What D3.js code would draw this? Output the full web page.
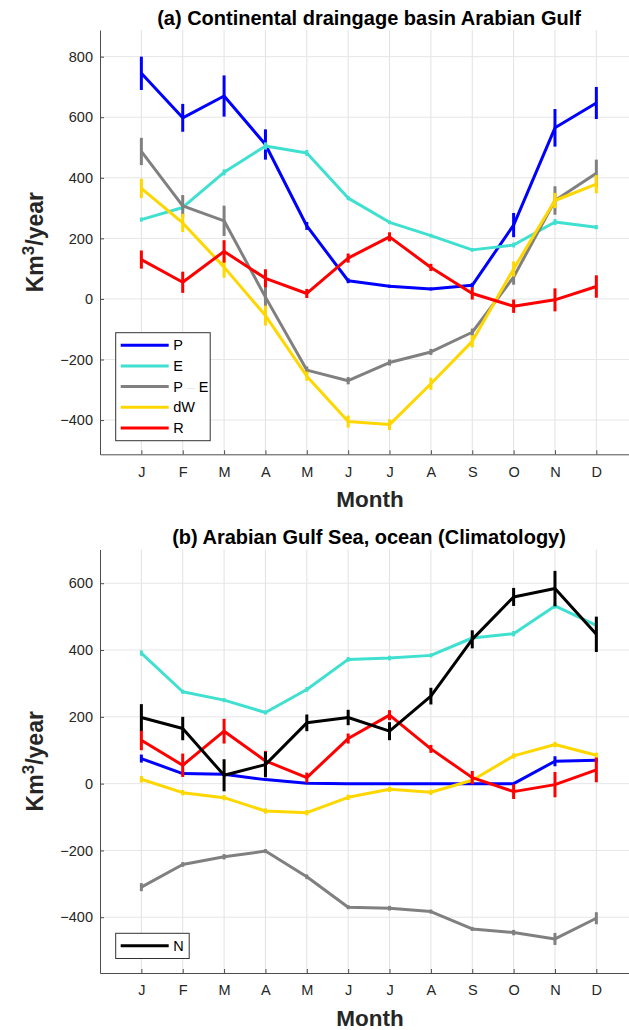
<!DOCTYPE html>
<html>
<head>
<meta charset="utf-8">
<script src="https://cdn.jsdelivr.net/npm/d3@7"></script>
<style>
  body { margin: 0; background: #fff; }
  svg { display: block; font-family: "Liberation Sans", Arial, sans-serif; }
</style>
</head>
<body>
<div id="chart"></div>
<script>
// month labels and y ticks
const months = ["J", "F", "M", "A", "M", "J", "J", "A", "S", "O", "N", "D"];
const yTicksLand = [-400, -200, 0, 200, 400, 600, 800];
const yTicksSea = [-400, -200, 0, 200, 400, 600];

// (a) continental drainage basin, km3/year
const landP = [745, 598, 670, 510, 241, 60, 42, 33, 45, 244, 565, 647];
const landPErr = [55, 46, 68, 50, 13, 8, 5, 5, 8, 40, 62, 53];
const landE = [262, 302, 418, 505, 482, 333, 253, 209, 162, 178, 254, 237];
const landEErr = [7, 8, 10, 12, 10, 7, 6, 6, 6, 8, 10, 7];
const landPE = [487, 307, 258, 6, -235, -270, -210, -175, -110, 72, 325, 415];
const landPEErr = [45, 36, 50, 33, 12, 12, 10, 10, 12, 25, 47, 45];
const landDW = [365, 251, 105, -55, -255, -405, -415, -280, -140, 99, 325, 379];
const landDWErr = [32, 30, 35, 33, 15, 20, 18, 20, 20, 25, 25, 30];

// runoff, same in both panels
const runoffR = [130, 55, 157, 68, 18, 135, 205, 104, 18, -24, -3, 41];
const runoffRErr = [30, 35, 37, 30, 15, 15, 15, 12, 20, 22, 38, 37];

// (b) gulf sea, ocean climatology
const seaP = [75, 30, 28, 12, 1, 0, 0, 0, 0, 0, 67, 70];
const seaPErr = [12, 4, 4, 3, 2, 1, 1, 1, 1, 1, 15, 6];
const seaE = [391, 275, 250, 213, 282, 372, 376, 384, 436, 449, 532, 474];
const seaEErr = [8, 6, 6, 6, 7, 7, 7, 6, 7, 8, 8, 8];
const seaPE = [-310, -242, -219, -202, -279, -370, -373, -383, -435, -446, -465, -403];
const seaPEErr = [12, 7, 8, 6, 7, 6, 7, 6, 6, 8, 18, 18];
const seaDW = [13, -27, -42, -82, -87, -41, -17, -26, 10, 83, 117, 85];
const seaDWErr = [10, 8, 8, 8, 8, 8, 8, 8, 8, 8, 8, 8];
const seaN = [198, 165, 25, 57, 182, 198, 157, 262, 432, 559, 584, 447];
const seaNErr = [40, 35, 48, 38, 25, 23, 27, 25, 27, 27, 53, 53];

const W = 629, H = 1030;
const svg = d3.select("#chart").append("svg")
  .attr("width", W).attr("height", H);

const x = d3.scaleLinear().domain([0, 13]).range([100, 637.7]);

function drawPanel(opts) {
  const g = svg.append("g");
  const y = d3.scaleLinear().domain(opts.domain).range(opts.range);
  const top = opts.range[1], bottom = opts.range[0];

  // grid
  g.append("g").selectAll("line").data(d3.range(1, 13)).enter().append("line")
    .attr("x1", d => x(d)).attr("x2", d => x(d))
    .attr("y1", top).attr("y2", bottom)
    .attr("stroke", "#e2e2e2").attr("stroke-width", 1);
  g.append("g").selectAll("line").data(opts.ticks).enter().append("line")
    .attr("x1", x(0)).attr("x2", W)
    .attr("y1", d => y(d)).attr("y2", d => y(d))
    .attr("stroke", "#e6e6e6").attr("stroke-width", 1);

  // axes
  const xAxis = d3.axisBottom(x).tickValues(d3.range(1, 13))
    .tickFormat(d => months[d - 1]).tickSizeInner(-4).tickSizeOuter(0).tickPadding(12);
  const gx = g.append("g").attr("transform", `translate(0,${bottom})`).call(xAxis);
  const yAxis = d3.axisLeft(y).tickValues(opts.ticks)
    .tickSizeInner(-4).tickSizeOuter(0).tickPadding(7);
  const gy = g.append("g").attr("transform", `translate(${x(0)},0)`).call(yAxis);
  [gx, gy].forEach(a => {
    a.select(".domain").attr("stroke", "#4d4d4d");
    a.selectAll(".tick line").attr("stroke", "#4d4d4d");
    a.selectAll("text").attr("fill", "#262626")
      .style("font-size", "14.5px").style("font-family", "'Liberation Sans', Arial, sans-serif");
  });

  // series
  const line = d3.line().x((d, i) => x(i + 1)).y(d => y(d));
  opts.series.forEach(s => {
    g.append("path").datum(s.values)
      .attr("d", line).attr("fill", "none")
      .attr("stroke", s.color).attr("stroke-width", 3)
      .attr("stroke-linejoin", "round");
    g.append("g").selectAll("line").data(s.values).enter().append("line")
      .attr("x1", (d, i) => x(i + 1)).attr("x2", (d, i) => x(i + 1))
      .attr("y1", (d, i) => y(d - s.err[i])).attr("y2", (d, i) => y(d + s.err[i]))
      .attr("stroke", s.color).attr("stroke-width", 3);
  });

  // title
  g.append("text").attr("x", 369).attr("y", opts.titleY)
    .attr("text-anchor", "middle").attr("font-weight", "bold")
    .attr("font-size", 20).attr("fill", "#000").text(opts.title);

  // axis labels
  g.append("text").attr("x", 370).attr("y", bottom + 52.5)
    .attr("text-anchor", "middle").attr("font-weight", "bold")
    .attr("font-size", 22.5).attr("fill", "#262626").text("Month");
  const yl = g.append("text")
    .attr("transform", `translate(43,${(top + bottom) / 2}) rotate(-90)`)
    .attr("text-anchor", "middle").attr("font-weight", "bold")
    .attr("font-size", 23).attr("fill", "#262626");
  yl.append("tspan").text("Km");
  yl.append("tspan").attr("font-size", 17).attr("dy", -9).text("3");
  yl.append("tspan").attr("dy", 9).text("/year");

  // legend
  const lg = g.append("g");
  const lx = 115.7, ly = opts.legendY;
  lg.append("rect").attr("x", lx).attr("y", ly)
    .attr("width", opts.legendW).attr("height", opts.legend.length * 20.7 + 4.5)
    .attr("fill", "#fff").attr("stroke", "#333").attr("stroke-width", 1);
  opts.legend.forEach((s, i) => {
    const cy = ly + 12.5 + i * 20.7;
    lg.append("line").attr("x1", lx + 5).attr("x2", lx + 53)
      .attr("y1", cy).attr("y2", cy)
      .attr("stroke", s.color).attr("stroke-width", 3);
    const t = lg.append("text").attr("x", lx + 57.5).attr("y", cy + 5)
      .attr("font-size", 14.5).attr("fill", "#000");
    if (s.label === "P E") {
      t.append("tspan").text("P");
      t.append("tspan").attr("fill", "#e8e8e8").text(" – ");
      t.append("tspan").text("E");
    } else {
      t.text(s.label);
    }
  });
}

drawPanel({
  domain: [-513, 888], range: [454.3, 30], ticks: yTicksLand,
  title: "(a) Continental draingage basin Arabian Gulf", titleY: 25,
  series: [
    { color: "#0000ff", values: landP, err: landPErr },
    { color: "#40e0d0", values: landE, err: landEErr },
    { color: "#808080", values: landPE, err: landPEErr },
    { color: "#ffd700", values: landDW, err: landDWErr },
    { color: "#ff0000", values: runoffR, err: runoffRErr }
  ],
  legendY: 332.7, legendW: 94.5,
  legend: [
    { color: "#0000ff", label: "P" },
    { color: "#40e0d0", label: "E" },
    { color: "#808080", label: "P E" },
    { color: "#ffd700", label: "dW" },
    { color: "#ff0000", label: "R" }
  ]
});

drawPanel({
  domain: [-567, 701], range: [973, 549.5], ticks: yTicksSea,
  title: "(b) Arabian Gulf Sea, ocean (Climatology)", titleY: 544,
  series: [
    { color: "#0000ff", values: seaP, err: seaPErr },
    { color: "#40e0d0", values: seaE, err: seaEErr },
    { color: "#808080", values: seaPE, err: seaPEErr },
    { color: "#ffd700", values: seaDW, err: seaDWErr },
    { color: "#ff0000", values: runoffR, err: runoffRErr },
    { color: "#000000", values: seaN, err: seaNErr }
  ],
  legendY: 933.3, legendW: 73.5,
  legend: [
    { color: "#000000", label: "N" }
  ]
});
</script>
</body>
</html>
